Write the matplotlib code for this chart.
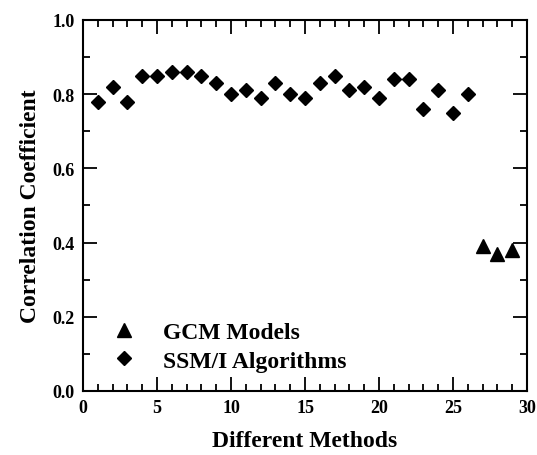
import matplotlib
matplotlib.use("Agg")
import matplotlib.pyplot as plt
from matplotlib.ticker import MultipleLocator

# data
ssmi_x = list(range(1, 27))
ssmi_y = [0.78, 0.82, 0.78, 0.85, 0.85, 0.86, 0.86, 0.85, 0.83, 0.80,
          0.81, 0.79, 0.83, 0.80, 0.79, 0.83, 0.85, 0.81, 0.82, 0.79,
          0.84, 0.84, 0.76, 0.81, 0.75, 0.80]
gcm_x = [27, 28, 29]
gcm_y = [0.39, 0.37, 0.38]

plt.rcParams.update({
    "font.family": "serif",
    "font.serif": ["Liberation Serif", "DejaVu Serif"],
    "font.weight": "bold",
})

fig = plt.figure(figsize=(5.37, 4.56), dpi=100)
ax = fig.add_axes([0.1546, 0.1404, 0.8268, 0.8136])

ax.plot(gcm_x, gcm_y, "^", color="black", markersize=10, label="GCM Models")
ax.plot(ssmi_x, ssmi_y, "D", color="black", markersize=7.5, label="SSM/I Algorithms")

ax.set_xlim(0, 30)
ax.set_ylim(0, 1.0)
ax.xaxis.set_major_locator(MultipleLocator(5))
ax.xaxis.set_minor_locator(MultipleLocator(1))
ax.yaxis.set_major_locator(MultipleLocator(0.2))
ax.yaxis.set_minor_locator(MultipleLocator(0.1))
ax.yaxis.set_major_formatter(plt.FormatStrFormatter("%.1f"))
ax.tick_params(which="both", direction="in", top=True, right=True, width=1.3)
ax.tick_params(which="major", length=10, labelsize=13, pad=6)
ax.tick_params(which="minor", length=5)
for s in ax.spines.values():
    s.set_linewidth(1.5)

ax.set_xlabel("Different Methods", fontsize=17, fontweight="bold", labelpad=10)
ax.set_ylabel("Correlation Coefficient", fontsize=17, fontweight="bold", labelpad=8)

ax.legend(loc="lower left", frameon=False, fontsize=17, handletextpad=0.65,
          labelspacing=0.3, bbox_to_anchor=(-0.008, -0.005))

fig.savefig("out.png", dpi=100)
